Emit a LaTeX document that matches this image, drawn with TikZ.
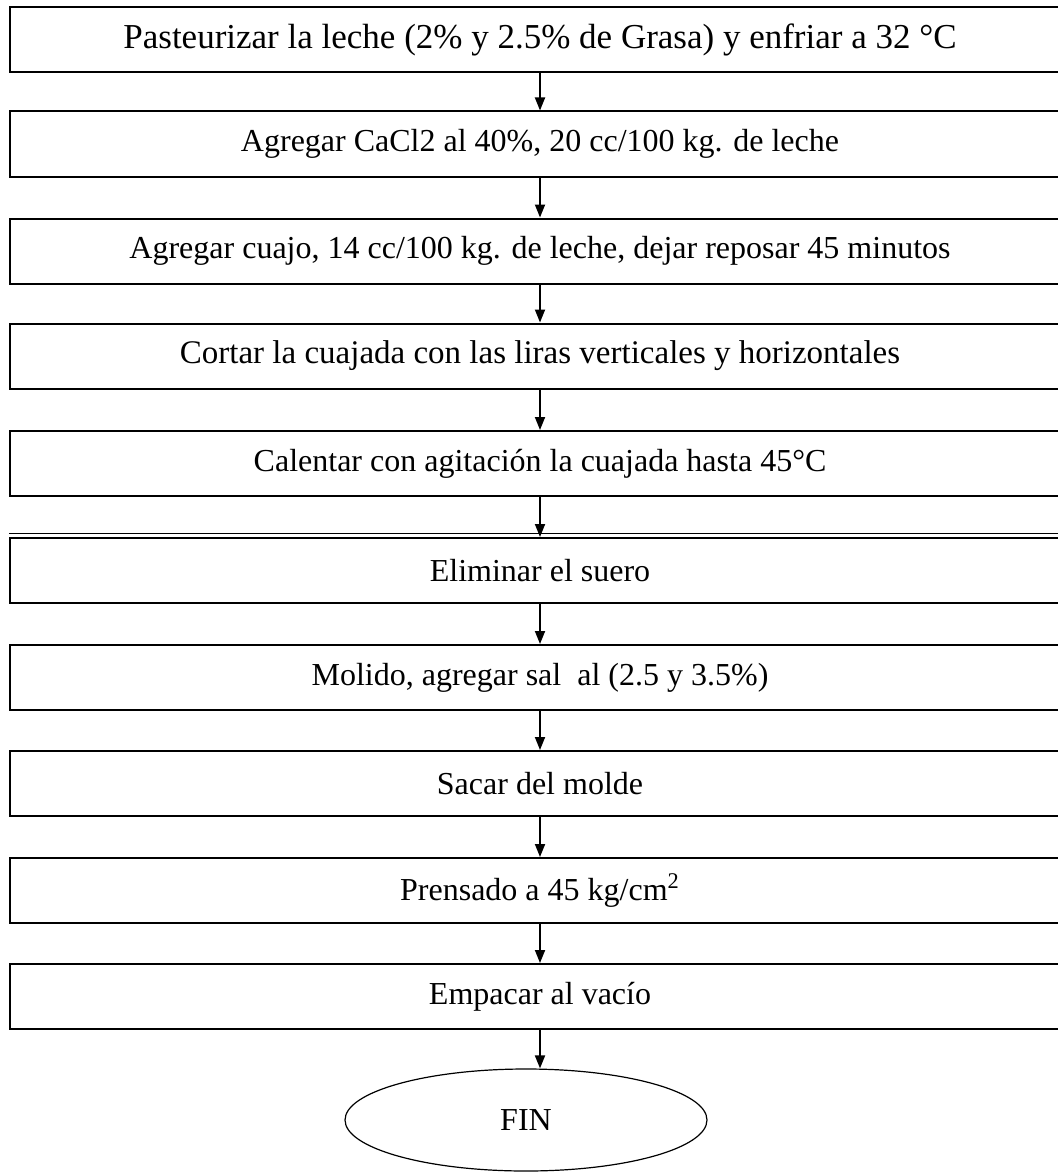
\documentclass[tikz,border=0pt]{standalone}
\usepackage{fontspec}
\setmainfont{Liberation Serif}
\usepackage{tikz}
\usetikzlibrary{shapes,arrows.meta}

\begin{document}
\begin{tikzpicture}[x=0.5pt,y=-0.5pt,
	paso/.style={draw, line width=1pt, minimum width=530pt, minimum height=32.5pt, inner sep=0pt, font=\fontsize{16}{19}\selectfont},
	flecha/.style={-{Triangle[length=6.5pt,width=5pt]}, line width=0.9pt}]
	\useasboundingbox (0,0) rectangle (1058,1172);
	\clip (0,0) rectangle (1058,1172);
	\def\cx{540} % centre of the boxes
	
	% steps
	\node[paso, font=\fontsize{17.5}{20}\selectfont] (p1) at (\cx,39.5) {Pasteurizar la leche (2\% y 2.5\% de Grasa) y enfriar a 32 °C};
	\node[paso] (p2) at (\cx,144) {Agregar CaCl2 al 40\%, 20 cc/100 kg. de leche};
	\node[paso] (p3) at (\cx,251) {Agregar cuajo, 14 cc/100 kg. de leche, dejar reposar 45 minutos};
	\node[paso, font=\fontsize{16.5}{19}\selectfont] (p4) at (\cx,356) {Cortar la cuajada con las liras verticales y horizontales};
	\node[paso] (p5) at (\cx,463.5) {Calentar con agitación la cuajada hasta 45°C};
	\node[paso] (p6) at (\cx,570.5) {Eliminar el suero};
	\node[paso] (p7) at (\cx,677.5) {Molido, agregar sal\ \ al (2.5 y 3.5\%)};
	\node[paso] (p8) at (\cx,783.5) {Sacar del molde};
	\node[paso] (p9) at (\cx,890.5) {Prensado a 45 kg/cm\textsuperscript{2}};
	\node[paso] (p10) at (\cx,996.5) {Empacar al vacío};
	
	% double top edge of the sixth box
	\draw[line width=0.6pt] ([yshift=1.6pt]p6.north west) -- ([yshift=1.6pt]p6.north east);
	
	% end
	\node[draw, ellipse, line width=0.6pt, minimum width=181pt, minimum height=51pt, inner sep=0pt, font=\fontsize{16}{19}\selectfont] (fin) at (526,1120) {FIN};
	
	% arrows
	\draw[flecha] (p1) -- (p2);
	\draw[flecha] (p2) -- (p3);
	\draw[flecha] (p3) -- (p4);
	\draw[flecha] (p4) -- (p5);
	\draw[flecha] (p5) -- (p6);
	\draw[flecha] (p6) -- (p7);
	\draw[flecha] (p7) -- (p8);
	\draw[flecha] (p8) -- (p9);
	\draw[flecha] (p9) -- (p10);
	\draw[flecha] (p10.south) -- (p10.south |- fin.north);
\end{tikzpicture}
\end{document}
